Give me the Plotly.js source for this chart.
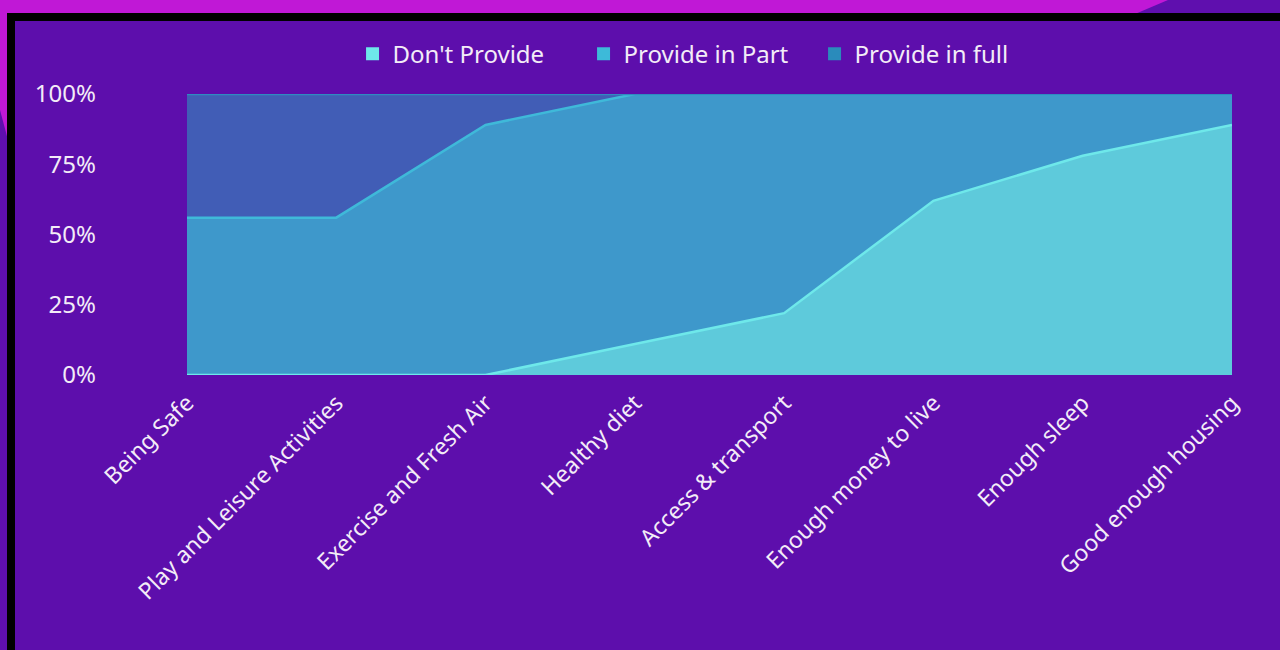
<!DOCTYPE html>
<html><head><meta charset="utf-8">
<script src="https://cdn.plot.ly/plotly-3.0.1.min.js"></script>
<style>
html,body{margin:0;padding:0;width:1280px;height:650px;overflow:hidden;background:#5f0fae;}
#deco{position:absolute;left:0;top:0;width:1280px;height:650px;}
#chart{position:absolute;left:0;top:0;width:1280px;height:650px;}
</style></head><body>
<svg id="deco" width="1280" height="650">
<rect x="0" y="0" width="1280" height="650" fill="#5f0fae"/>
<polygon points="0,0 1168,0 1135,14 8,14 8,140 0,110" fill="#c018d6"/>
<rect x="7" y="13" width="1273" height="637" fill="#000000"/>
<rect x="15" y="21" width="1265" height="629" fill="#5d0eac"/>
</svg>
<div id="chart"></div>
<script>
var categories = ["Being Safe","Play and Leisure Activities","Exercise and Fresh Air","Healthy diet","Access & transport","Enough money to live","Enough sleep","Good enough housing"];
var dontProvide   = [0, 0, 0, 11, 22, 62, 78, 89];
var provideInPart = [56, 56, 89, 89, 78, 38, 22, 11];
var provideInFull = [44, 44, 11, 0, 0, 0, 0, 0];
var seriesNames = ["Don't Provide","Provide in Part","Provide in full"];
var yTickVals = [0, 25, 50, 75, 100];
var yTickText = ["0%","25%","50%","75%","100%"];

var fillColors = ["#5ecadb","#3e98cb","#415db6"];
var lineColors = ["#6ee8ea","#3fb9d9","#2f8bc0"];
var legendColors = ["#6ee8ea","#3dbad9","#2a8bbb"];
var seriesVals = [dontProvide, provideInPart, provideInFull];

var traces = [];
for (var i=0;i<3;i++){
  traces.push({
    type:'scatter', mode:'lines', x:categories, y:seriesVals[i],
    stackgroup:'one', fillcolor:fillColors[i],
    line:{color:lineColors[i], width:2.5},
    showlegend:false, hoverinfo:'skip', name:seriesNames[i]
  });
}
for (var j=0;j<3;j++){
  traces.push({
    type:'scatter', mode:'markers', x:[null], y:[null], name:seriesNames[j],
    marker:{symbol:'square', size:13, color:legendColors[j]}, showlegend:true
  });
}

var layout = {
  width:1280, height:650,
  paper_bgcolor:'rgba(0,0,0,0)', plot_bgcolor:'rgba(0,0,0,0)',
  margin:{l:187, r:48, t:94, b:275},
  font:{family:'"Noto Sans", "Open Sans", sans-serif', color:'#f3ecf7', size:22},
  showlegend:true,
  legend:{orientation:'h', traceorder:'normal', x:0.49, xanchor:'center', y:1.142, yanchor:'middle',
          entrywidth:186, entrywidthmode:'pixels',
          font:{size:24, color:'#f3ecf7'}, bgcolor:'rgba(0,0,0,0)', itemclick:false},
  xaxis:{type:'category', range:[0,7], showgrid:false, zeroline:false, showline:false,
         tickangle:-45, tickfont:{size:23, color:'#f3ecf7'}, ticks:'', ticklabelstandoff:9, fixedrange:true},
  yaxis:{range:[0,100], tickvals:yTickVals, ticktext:yTickText, showgrid:false,
         zeroline:false, showline:false, tickfont:{size:24, color:'#f3ecf7'}, ticks:'',
         ticklabelstandoff:90, fixedrange:true}
};
Plotly.newPlot('chart', traces, layout, {displayModeBar:false, staticPlot:true});
</script>
</body></html>
